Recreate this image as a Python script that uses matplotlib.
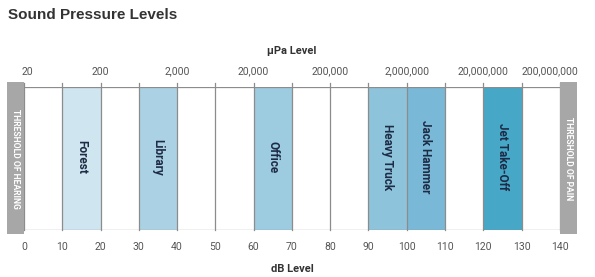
import matplotlib.pyplot as plt
from matplotlib import transforms

plt.rcParams['font.family'] = ['Roboto', 'DejaVu Sans']

# dB scale and matching micro-pascal labels
db_ticks = list(range(0, 141, 10))
upa_ticks = [0, 20, 40, 60, 80, 100, 120, 140]
upa_labels = ['20', '200', '2,000', '20,000', '200,000', '2,000,000',
              '20,000,000', '200,000,000']

# sound sources (dB ranges)
src_names = ['Forest', 'Library', 'Office', 'Heavy Truck', 'Jack Hammer', 'Jet Take-Off']
src_lo = [10, 30, 60, 90, 100, 120]
src_hi = [20, 40, 70, 100, 110, 130]
src_colors = ['#cfe5f0', '#abd2e4', '#9dcbe0', '#8ec3dc', '#79b9d7', '#46a7c7']

# thresholds
thr_names = ['THRESHOLD OF HEARING', 'THRESHOLD OF PAIN']
thr_db = [0, 140]

fig = plt.figure(figsize=(5.95, 2.77), dpi=100)
ax = fig.add_axes([0.0403, 0.170, 0.9007, 0.516])
ax.set_xlim(0, 140)
ax.set_ylim(0, 1)

line_col = '#8c8c8c'
text_col = '#1e2b45'

for name, lo, hi, c in zip(src_names, src_lo, src_hi, src_colors):
    ax.axvspan(lo, hi, color=c, lw=0)
    ax.text((lo + hi) / 2, 0.51, name, rotation=-90, ha='center', va='center',
            fontsize=8.5, fontweight='bold', color=text_col)

for x in db_ticks:
    ax.plot([x, x], [0, 1.03], color=line_col, lw=0.9, clip_on=False)
ax.axhline(0, color=line_col, lw=0.9)
ax.axhline(1, color=line_col, lw=0.9)

bar_w = 4.5
for name, x in zip(thr_names, thr_db):
    x0 = x - bar_w if x == 0 else x
    ax.add_patch(plt.Rectangle((x0, -0.027), bar_w, 1.062, color='#a7a7a7',
                               lw=0, clip_on=False, zorder=3))
    ax.text(x0 + bar_w / 2, 0.5, name, rotation=-90, ha='center', va='center',
            fontsize=6.2, fontweight='bold', color='white', zorder=4, clip_on=False)

for s in ax.spines.values():
    s.set_visible(False)

ax.set_xticks(db_ticks)
ax.tick_params(axis='x', length=0, pad=9, labelsize=7.5, labelcolor='#555555')
ax.set_yticks([])
ax.set_xlabel('dB Level', fontsize=8, fontweight='bold', color='#333333', labelpad=8.5)

top = ax.secondary_xaxis('top')
top.set_xticks(upa_ticks)
top.set_xticklabels(upa_labels)
top.tick_params(axis='x', length=0, pad=7.5, labelsize=7.5, labelcolor='#555555')
for s in top.spines.values():
    s.set_visible(False)
top.set_xlabel('µPa Level', fontsize=8, fontweight='bold', color='#333333', labelpad=9)
lbl = top.get_xticklabels()
lbl[-1].set_ha('right')
lbl[-1].set_transform(lbl[-1].get_transform() +
                      transforms.ScaledTranslation(18 / 100, 0, fig.dpi_scale_trans))
lbl[0].set_transform(lbl[0].get_transform() +
                     transforms.ScaledTranslation(3 / 100, 0, fig.dpi_scale_trans))

fig.text(0.014, 0.945, 'Sound Pressure Levels', fontsize=11, fontweight='bold',
         color='#333333', family=['Liberation Sans', 'DejaVu Sans'], va='center')

fig.savefig('out.png', dpi=100)
